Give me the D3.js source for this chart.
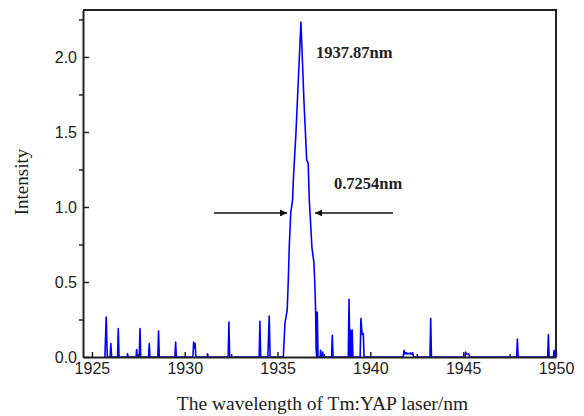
<!DOCTYPE html>
<html>
<head>
<meta charset="utf-8">
<script src="https://cdn.jsdelivr.net/npm/d3@7"></script>
<style>
  body { margin: 0; background: #fff; }
  svg { display: block; }
  .tick text { font-family: "Liberation Sans", Arial, sans-serif; font-size: 16px; fill: #222; }
  .axis path, .axis line { stroke: #222; }
  .lbl { font-family: "Liberation Serif", "Times New Roman", serif; fill: #222; }
</style>
</head>
<body>
<svg id="chart" width="584" height="416"></svg>
<script>
// spectrum (nm, a.u.)
const wavelength = [
  1925.70, 1925.77, 1925.83, 1925.98, 1926.02, 1926.06, 1926.38, 1926.42, 1926.46,
  1926.90, 1926.92, 1926.95, 1927.38, 1927.41, 1927.45, 1927.55, 1927.59, 1927.63,
  1928.05, 1928.09, 1928.13, 1928.55, 1928.59, 1928.63, 1929.47, 1929.51, 1929.55,
  1930.44, 1930.48, 1930.52, 1930.56, 1930.60, 1931.21, 1931.23, 1931.26,
  1932.34, 1932.38, 1932.42, 1934.01, 1934.05, 1934.09, 1934.48, 1934.55, 1934.60,
  1935.31, 1935.40, 1935.52, 1935.58, 1935.63, 1935.71, 1935.81, 1935.85, 1935.99,
  1936.26, 1936.42, 1936.57, 1936.65, 1936.71, 1936.75, 1936.85, 1936.96, 1937.00,
  1937.05, 1937.08, 1937.11, 1937.14, 1937.18, 1937.30, 1937.32, 1937.35,
  1937.41, 1937.43, 1937.46, 1937.91, 1937.95, 1937.99,
  1938.81, 1938.85, 1938.90, 1938.93, 1938.97, 1939.02, 1939.06,
  1939.45, 1939.49, 1939.56, 1939.62, 1939.66,
  1941.77, 1941.81, 1941.85, 1941.92, 1941.97, 1942.03, 1942.08, 1942.15, 1942.20, 1942.28, 1942.33,
  1943.21, 1943.25, 1943.29, 1945.10, 1945.13, 1945.17, 1945.31, 1945.34,
  1947.88, 1947.92, 1947.96, 1949.55, 1949.59, 1949.63, 1949.86, 1949.90, 1949.94
];
const intensity = [
  0, 0.267, 0, 0, 0.089, 0, 0, 0.189, 0,
  0, 0.022, 0, 0, 0.05, 0, 0, 0.189, 0,
  0, 0.089, 0, 0, 0.173, 0, 0, 0.1, 0,
  0, 0.1, 0.06, 0.09, 0, 0, 0.022, 0,
  0, 0.233, 0, 0, 0.238, 0, 0, 0.273, 0,
  0, 0.227, 0.313, 0.513, 0.733, 0.96, 1.047, 1.18, 1.49,
  2.233, 1.713, 1.313, 1.293, 1.047, 0.96, 0.733, 0.627, 0.513,
  0.313, 0.05, 0, 0.3, 0, 0, 0.044, 0,
  0, 0.033, 0, 0, 0.144, 0,
  0, 0.385, 0, 0.178, 0, 0.18, 0,
  0, 0.256, 0.15, 0.156, 0,
  0, 0.044, 0.02, 0.03, 0.02, 0.025, 0.02, 0.028, 0.018, 0.028, 0,
  0, 0.256, 0, 0, 0.033, 0.02, 0.02, 0,
  0, 0.12, 0, 0, 0.15, 0, 0, 0.044, 0
];

const xMajor = [1925, 1930, 1935, 1940, 1945, 1950];
const xMinor = [1927.5, 1932.5, 1937.5, 1942.5, 1947.5];
const yMajor = [0, 0.5, 1.0, 1.5, 2.0];
const yMinor = [0.25, 0.75, 1.25, 1.75, 2.25];

// FWHM arrows and labels, in data units
const peakLabel = { text: "1937.87nm", x: 1937.07, y: 1.99 };
const widthLabel = { text: "0.7254nm", x: 1938.04, y: 1.12 };
const arrows = [
  { from: 1931.57, to: 1935.51, y: 0.96 },
  { from: 1941.22, to: 1937.02, y: 0.96 }
];

const svg = d3.select("#chart");
const mLeft = 83, mRight = 556, mTop = 10, mBottom = 357;

const x = d3.scaleLinear().domain([1924.52, 1950]).range([mLeft, mRight]);
const y = d3.scaleLinear().domain([0, 2.313]).range([mBottom, mTop]);

svg.append("defs").append("marker")
  .attr("id", "head")
  .attr("viewBox", "0 0 10 10")
  .attr("refX", 10).attr("refY", 5)
  .attr("markerWidth", 14).attr("markerHeight", 7)
  .attr("markerUnits", "userSpaceOnUse")
  .attr("orient", "auto")
  .append("path")
  .attr("d", "M0,0 L10,5 L0,10 Z")
  .attr("fill", "#111");

svg.append("clipPath").attr("id", "clip")
  .append("rect")
  .attr("x", mLeft).attr("y", mTop)
  .attr("width", mRight - mLeft).attr("height", mBottom - mTop);

const pts = wavelength.map((w, i) => [w, intensity[i]]);
const line = d3.line().x(d => x(d[0])).y(d => y(d[1]));

svg.append("path")
  .datum(pts)
  .attr("clip-path", "url(#clip)")
  .attr("d", line)
  .attr("fill", "none")
  .attr("stroke", "#0000ff")
  .attr("stroke-width", 1.6)
  .attr("stroke-linejoin", "round");

// axes
svg.append("g").attr("class", "axis")
  .attr("transform", `translate(0,${mBottom})`)
  .call(d3.axisBottom(x).tickValues(xMajor).tickFormat(d3.format("d"))
    .tickSizeInner(-5).tickSizeOuter(0).tickPadding(6));
svg.append("g").attr("class", "axis")
  .attr("transform", `translate(0,${mBottom})`)
  .call(d3.axisBottom(x).tickValues(xMinor).tickFormat("")
    .tickSizeInner(-3).tickSizeOuter(0))
  .select(".domain").remove();

svg.append("g").attr("class", "axis")
  .attr("transform", `translate(${mLeft},0)`)
  .call(d3.axisLeft(y).tickValues(yMajor).tickFormat(d3.format(".1f"))
    .tickSizeInner(-6).tickSizeOuter(0).tickPadding(6));
svg.append("g").attr("class", "axis")
  .attr("transform", `translate(${mLeft},0)`)
  .call(d3.axisLeft(y).tickValues(yMinor).tickFormat("")
    .tickSizeInner(4).tickSizeOuter(0))
  .select(".domain").remove();

svg.selectAll(".axis line").attr("stroke-width", 1.5);
svg.selectAll(".axis .domain").attr("stroke-width", 2);

// top and right frame
svg.append("path")
  .attr("d", `M${mLeft},${mTop}H${mRight}V${mBottom}`)
  .attr("fill", "none")
  .attr("stroke", "#222")
  .attr("stroke-width", 2);

// arrows
svg.selectAll(".arrow")
  .data(arrows)
  .join("line")
  .attr("class", "arrow")
  .attr("x1", d => x(d.from)).attr("x2", d => x(d.to))
  .attr("y1", d => y(d.y)).attr("y2", d => y(d.y))
  .attr("stroke", "#111")
  .attr("stroke-width", 1.5)
  .attr("marker-end", "url(#head)");

svg.selectAll(".note")
  .data([peakLabel, widthLabel])
  .join("text")
  .attr("class", "note lbl")
  .attr("x", d => x(d.x)).attr("y", d => y(d.y))
  .attr("font-size", 16.5)
  .attr("font-weight", "bold")
  .text(d => d.text);

// axis titles
svg.append("text")
  .attr("class", "lbl")
  .attr("x", (mLeft + mRight) / 2 + 3).attr("y", 410)
  .attr("text-anchor", "middle")
  .attr("font-size", 19.5)
  .text("The wavelength of Tm:YAP laser/nm");

svg.append("text")
  .attr("class", "lbl")
  .attr("transform", "translate(28,182) rotate(-90)")
  .attr("text-anchor", "middle")
  .attr("font-size", 19)
  .text("Intensity");
</script>
</body>
</html>
